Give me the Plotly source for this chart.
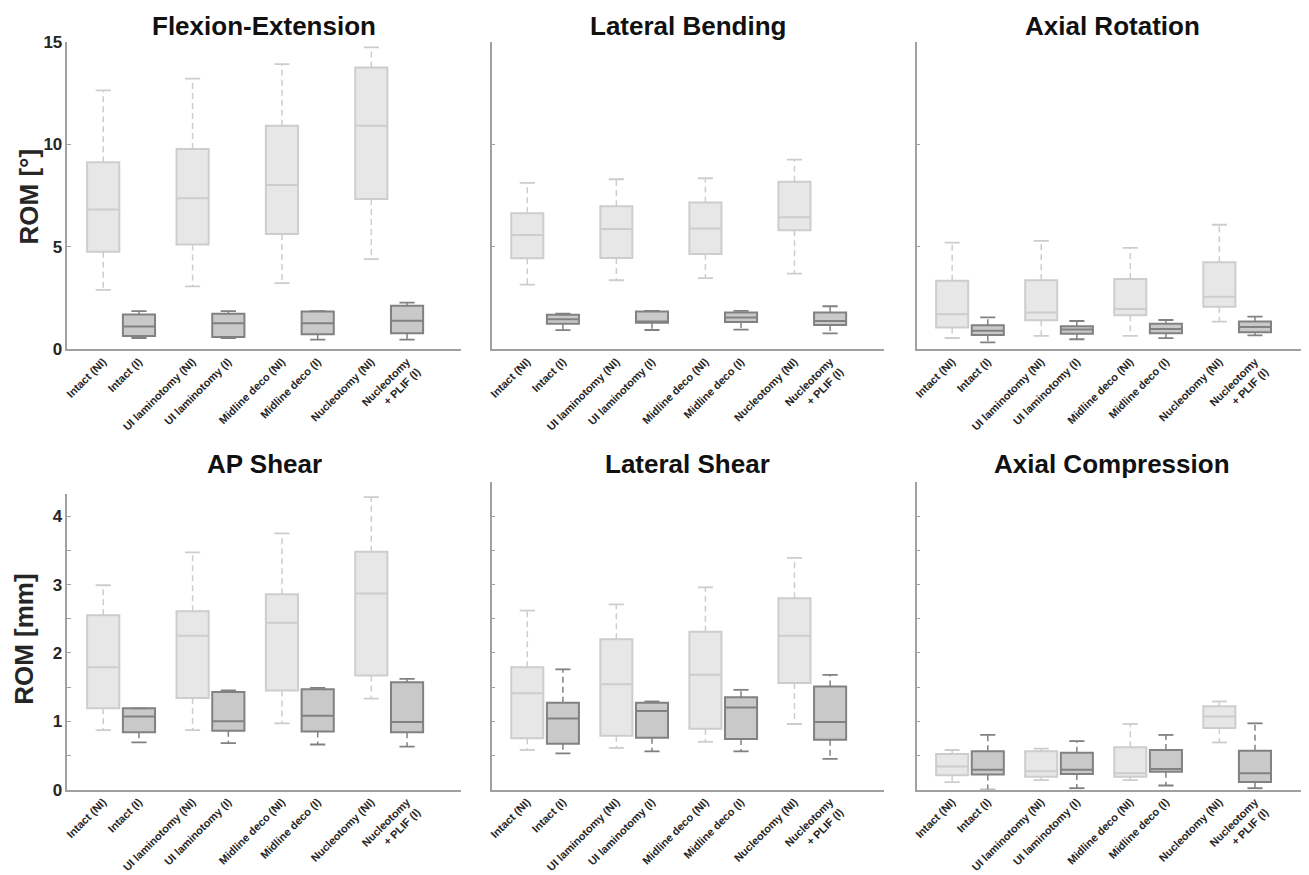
import plotly.graph_objects as go

# ---------------- data ----------------
labels = ["Intact (NI)", "Intact (I)", "UI laminotomy (NI)", "UI laminotomy (I)",
          "Midline deco (NI)", "Midline deco (I)", "Nucleotomy (NI)", "Nucleotomy<br>+ PLIF (I)"]

titles = ["Flexion-Extension", "Lateral Bending", "Axial Rotation",
          "AP Shear", "Lateral Shear", "Axial Compression"]

fe_upper = [12.64, 1.86, 13.21, 1.86, 13.92, 1.86, 14.74, 2.28]
fe_q3    = [9.13, 1.70, 9.78, 1.73, 10.91, 1.84, 13.75, 2.12]
fe_med   = [6.82, 1.11, 7.37, 1.27, 8.02, 1.27, 10.91, 1.39]
fe_q1    = [4.76, 0.65, 5.12, 0.60, 5.63, 0.73, 7.34, 0.78]
fe_lower = [2.90, 0.55, 3.07, 0.54, 3.23, 0.47, 4.40, 0.47]

lb_upper = [8.12, 1.74, 8.30, 1.87, 8.35, 1.87, 9.26, 2.10]
lb_q3    = [6.64, 1.68, 6.98, 1.84, 7.17, 1.79, 8.18, 1.79]
lb_med   = [5.58, 1.46, 5.87, 1.35, 5.89, 1.55, 6.44, 1.38]
lb_q1    = [4.44, 1.25, 4.46, 1.30, 4.65, 1.33, 5.81, 1.19]
lb_lower = [3.16, 0.93, 3.37, 0.94, 3.47, 0.96, 3.69, 0.78]

ar_upper = [5.21, 1.56, 5.29, 1.38, 4.95, 1.43, 6.08, 1.59]
ar_q3    = [3.34, 1.17, 3.37, 1.12, 3.43, 1.24, 4.25, 1.35]
ar_med   = [1.71, 0.91, 1.79, 0.96, 1.97, 0.99, 2.57, 1.09]
ar_q1    = [1.06, 0.70, 1.42, 0.76, 1.66, 0.78, 2.08, 0.83]
ar_lower = [0.55, 0.34, 0.65, 0.49, 0.65, 0.54, 1.35, 0.68]

ap_upper = [2.99, 1.19, 3.47, 1.45, 3.75, 1.49, 4.28, 1.62]
ap_q3    = [2.55, 1.19, 2.61, 1.43, 2.86, 1.47, 3.48, 1.57]
ap_med   = [1.79, 1.07, 2.25, 1.00, 2.44, 1.08, 2.87, 0.99]
ap_q1    = [1.19, 0.84, 1.34, 0.86, 1.45, 0.85, 1.67, 0.84]
ap_lower = [0.87, 0.69, 0.87, 0.68, 0.97, 0.66, 1.33, 0.63]

ls_upper = [2.62, 1.76, 2.71, 1.29, 2.96, 1.46, 3.39, 1.68]
ls_q3    = [1.79, 1.27, 2.20, 1.27, 2.31, 1.35, 2.80, 1.51]
ls_med   = [1.41, 1.04, 1.54, 1.15, 1.68, 1.20, 2.25, 0.99]
ls_q1    = [0.75, 0.67, 0.79, 0.76, 0.89, 0.74, 1.56, 0.73]
ls_lower = [0.58, 0.53, 0.61, 0.56, 0.70, 0.56, 0.96, 0.45]

ac_upper = [0.58, 0.80, 0.60, 0.71, 0.96, 0.80, 1.29, 0.97]
ac_q3    = [0.52, 0.56, 0.56, 0.54, 0.62, 0.58, 1.22, 0.57]
ac_med   = [0.34, 0.29, 0.27, 0.29, 0.24, 0.30, 1.07, 0.24]
ac_q1    = [0.21, 0.22, 0.19, 0.23, 0.19, 0.26, 0.90, 0.11]
ac_lower = [0.11, 0.00, 0.14, 0.02, 0.14, 0.06, 0.69, 0.02]

panels = [
    (fe_upper, fe_q3, fe_med, fe_q1, fe_lower),
    (lb_upper, lb_q3, lb_med, lb_q1, lb_lower),
    (ar_upper, ar_q3, ar_med, ar_q1, ar_lower),
    (ap_upper, ap_q3, ap_med, ap_q1, ap_lower),
    (ls_upper, ls_q3, ls_med, ls_q1, ls_lower),
    (ac_upper, ac_q3, ac_med, ac_q1, ac_lower),
]

# ---------------- styling / layout ----------------
W, H = 1309, 875
FONT = "Liberation Sans, Arial, sans-serif"
positions = [i // 2 + 1 + 0.4 * (i % 2) for i in range(8)]
BOX_W = 0.36
CAP_W = 0.17

styles = {
    0: dict(fill="#e7e7e7", line="#cdcdcd", whisk="#cdcdcd"),
    1: dict(fill="#c9c9c9", line="#818181", whisk="#818181"),
}
AXIS_COL = "#a0a0a0"


def fx(px):
    """target screen x pixel -> paper fraction (compensates page offset)"""
    return (px - 10.2) / 0.998 / W


def fy(py):
    """target screen y pixel -> paper fraction (compensates page offset)"""
    return 1 - (py - 18.0) / 0.9775 / H


xdom = [(fx(66.7), fx(460)), (fx(491), fx(883)), (fx(916), fx(1308))]
ydom_top = (fy(350), fy(43))
ydom_bot = (fy(790), fy(482.7))
ydom_bot_left = (fy(790), fy(495))

fig = go.Figure()
layout = dict(
    width=W, height=H, margin=dict(l=0, r=0, t=0, b=0),
    paper_bgcolor="white", plot_bgcolor="white", showlegend=False,
    font=dict(family=FONT, color="#262626"),
    boxmode="overlay",
)
annotations = []

for p, (upper, q3, med, q1, lower) in enumerate(panels):
    r, c = divmod(p, 3)
    ax = "" if p == 0 else str(p + 1)
    xref, yref = "x" + ax, "y" + ax

    for g in (0, 1):
        idx = [i for i in range(8) if i % 2 == g]
        st = styles[g]
        xs = [positions[i] for i in idx]
        fig.add_trace(go.Box(
            x=xs, q1=[q1[i] for i in idx], median=[med[i] for i in idx],
            q3=[q3[i] for i in idx], lowerfence=[q1[i] for i in idx],
            upperfence=[q3[i] for i in idx], width=BOX_W, whiskerwidth=0,
            fillcolor=st["fill"], line=dict(color=st["line"], width=2),
            boxpoints=False, xaxis=xref, yaxis=yref, hoverinfo="skip",
        ))
        wx, wy, cx, cy = [], [], [], []
        for i in idx:
            x0 = positions[i]
            wx += [x0, x0, None, x0, x0, None]
            wy += [q3[i], upper[i], None, q1[i], lower[i], None]
            cx += [x0 - CAP_W / 2, x0 + CAP_W / 2, None, x0 - CAP_W / 2, x0 + CAP_W / 2, None]
            cy += [upper[i], upper[i], None, lower[i], lower[i], None]
        fig.add_trace(go.Scatter(x=wx, y=wy, mode="lines", xaxis=xref, yaxis=yref,
                                 line=dict(color=st["whisk"], width=1.5, dash="6px,4px"),
                                 hoverinfo="skip"))
        fig.add_trace(go.Scatter(x=cx, y=cy, mode="lines", xaxis=xref, yaxis=yref,
                                 line=dict(color=st["whisk"], width=1.8),
                                 hoverinfo="skip"))

    if r == 0:
        ydom = ydom_top
        yrange = [0, 15]
        tv = [0, 5, 10, 15]
        tt = ["0", "5", "10", "15"] if c == 0 else ["", "", "", ""]
    else:
        ydom = ydom_bot_left if c == 0 else ydom_bot
        yrange = [0, 4.32] if c == 0 else [0, 4.5]
        tv = [0, 0.5, 1, 1.5, 2, 2.5, 3, 3.5, 4] + ([] if c == 0 else [4.5])
        if c == 0:
            tt = ["0", "", "1", "", "2", "", "3", "", "4"]
        else:
            tt = [""] * len(tv)
    layout["xaxis" + ax] = dict(
        domain=list(xdom[c]), range=[0.6, 5.0], anchor=yref,
        showline=True, linecolor=AXIS_COL, linewidth=1.5,
        showgrid=False, zeroline=False, ticks="",
        tickmode="array", tickvals=positions, ticktext=labels,
        tickangle=-45, tickfont=dict(size=11, family=FONT, color="#262626", weight="bold"),
    )
    layout["yaxis" + ax] = dict(
        domain=list(ydom), range=yrange, anchor=xref,
        showline=True, linecolor=AXIS_COL, linewidth=1.5,
        showgrid=False, zeroline=False, ticks="inside", ticklen=4,
        tickcolor=AXIS_COL, tickwidth=1.2,
        tickmode="array", tickvals=tv, ticktext=tt,
        tickfont=dict(size=17, family=FONT, color="#262626", weight="bold"),
    )
    ytitle_px = 27 if r == 0 else 465
    annotations.append(dict(
        text="<b>" + titles[p] + "</b>", x=sum(xdom[c]) / 2, y=fy(ytitle_px),
        xref="paper", yref="paper", showarrow=False, xanchor="center", yanchor="middle",
        font=dict(size=26, family=FONT, color="#111111"),
    ))

annotations.append(dict(text="<b>ROM [°]</b>", x=fx(28.5), y=fy(197), xref="paper", yref="paper",
                        showarrow=False, textangle=-90, xanchor="center", yanchor="middle",
                        font=dict(size=26, family=FONT, color="#262626")))
annotations.append(dict(text="<b>ROM [mm]</b>", x=fx(23.5), y=fy(640), xref="paper", yref="paper",
                        showarrow=False, textangle=-90, xanchor="center", yanchor="middle",
                        font=dict(size=26, family=FONT, color="#262626")))
layout["annotations"] = annotations
fig.update_layout(**layout)
fig.write_html("out.html")
